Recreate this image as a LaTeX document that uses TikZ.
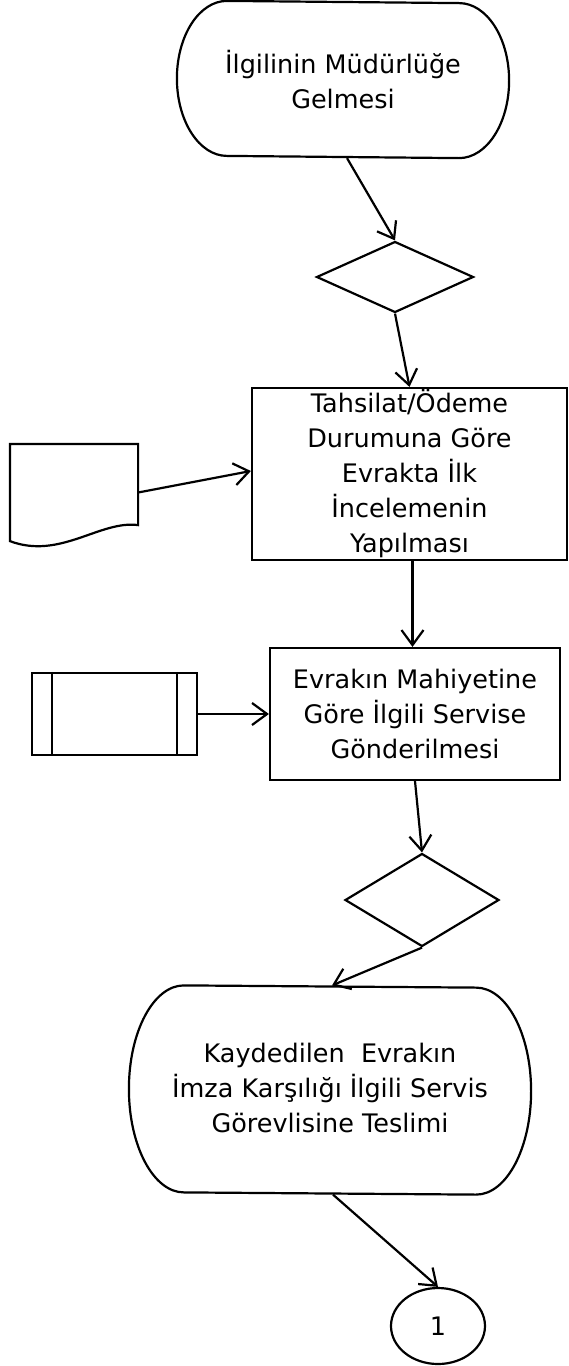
\documentclass[tikz,border=0pt]{standalone}
\usepackage{fontspec}
\setmainfont{DejaVu Sans}
\usetikzlibrary{shapes.geometric,arrows.meta}

\begin{document}
\begin{tikzpicture}[x=1pt,y=1pt,line width=2.2pt,
  >={Straight Barb[length=15pt,width=22pt]},
  every node/.style={font=\fontsize{25.5}{35}\selectfont, align=center, inner sep=0pt},
  stepbox/.style={draw, rectangle},
  decision/.style={draw, diamond},
  terminal/.style={rectangle}]
\useasboundingbox (0,0) rectangle (568,-1366);
% start
\node [terminal, minimum width=330pt, minimum height=155pt] (start) at (343,-79.5) {İlgilinin Müdürlüğe\\Gelmesi};
\draw ([xshift=50pt]start.north west) arc [start angle=90, end angle=270, x radius=50pt, y radius=77.5pt]
  -- ([xshift=-50pt]start.south east) arc [start angle=-90, end angle=90, x radius=50pt, y radius=77.5pt] -- cycle;
\node [decision, minimum width=157pt, minimum height=71pt] (d1) at (395,-277) {};
% inceleme
\node [stepbox, minimum width=315pt, minimum height=172pt] (box1) at (409.5,-474) {Tahsilat/Ödeme\\Durumuna Göre\\Evrakta İlk\\İncelemenin\\Yapılması};
\node [minimum width=126pt, minimum height=95pt] (doc) at (74,-492.5) {};
\draw (doc.south west) -- (doc.north west) -- (doc.north east) -- ([yshift=16pt]doc.south east)
  .. controls (100,-520) and (60,-560) .. cycle;
% servise gonderme
\node [stepbox, minimum width=290pt, minimum height=132pt] (box2) at (415,-714) {Evrakın Mahiyetine\\Göre İlgili Servise\\Gönderilmesi};
\node [draw, minimum width=165pt, minimum height=82pt] (proc) at (114.5,-714) {};
\draw ([xshift=21pt]proc.north west) -- ([xshift=21pt]proc.south west);
\draw ([xshift=-21pt]proc.north east) -- ([xshift=-21pt]proc.south east);
\node [decision, minimum width=154pt, minimum height=93pt] (d2) at (422,-900) {};
% teslim
\node [terminal, minimum width=400pt, minimum height=207pt] (term2) at (330,-1088) {Kaydedilen\ \ Evrakın\\İmza Karşılığı İlgili Servis\\Görevlisine Teslimi};
\draw ([xshift=55pt,yshift=-2pt]term2.north west) arc [start angle=90, end angle=270, x radius=55pt, y radius=103.5pt]
  -- ([xshift=-55pt,yshift=-2pt]term2.south east) arc [start angle=-90, end angle=90, x radius=55pt, y radius=103.5pt] -- cycle;
\node [draw, ellipse, minimum width=94pt, minimum height=76pt] (one) at (438,-1326) {1};
% arrows
\draw [->] ([xshift=4pt]start.south) -- (d1.north);
\draw [->] (d1.south) -- (box1.north);
\draw [->] (doc.east) -- ([yshift=3pt]box1.west);
\draw [->] ([xshift=3pt]box1.south) -- ([xshift=3pt]box1.south |- box2.north);
\draw [->] (proc.east) -- (proc.east -| box2.west);
\draw [->] (box2.south) -- (d2.north);
\draw [->] (d2.south) -- ([xshift=2pt,yshift=-2pt]term2.north);
\draw [->] ([xshift=3pt,yshift=-2pt]term2.south) -- (one.north);
\end{tikzpicture}
\end{document}
